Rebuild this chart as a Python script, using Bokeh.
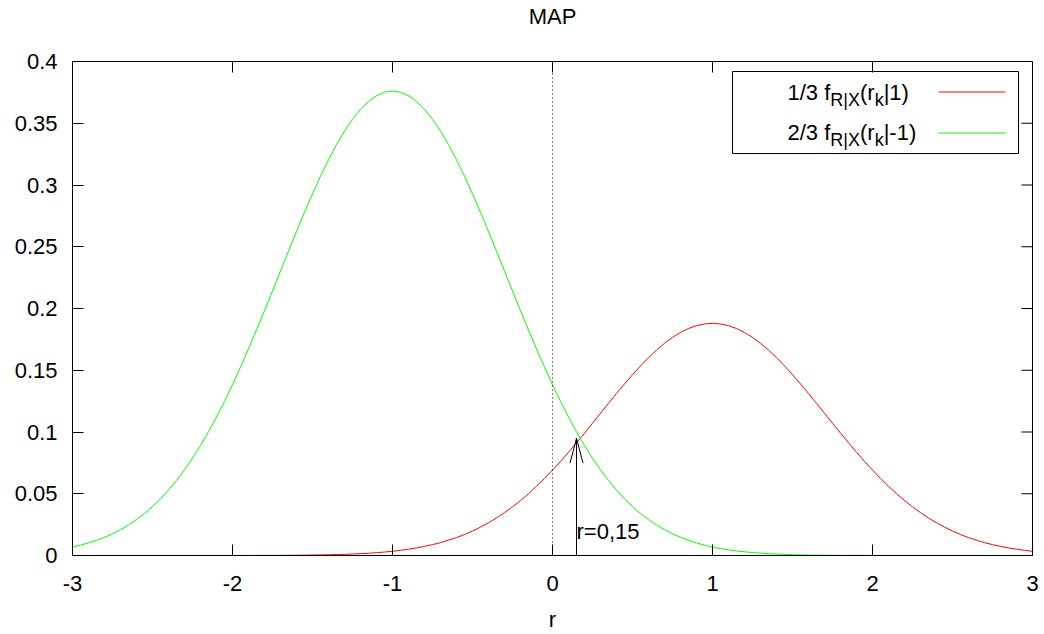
from bokeh.plotting import figure
from bokeh.models import FixedTicker, Span, Label, BoxAnnotation, Range1d, LinearAxis
from bokeh.embed import file_html
from bokeh.resources import INLINE

# ---------------- data ----------------
title = "MAP"
x_label = "r"
x_ticks = [-3, -2, -1, 0, 1, 2, 3]
x_tick_labels = ["-3", "-2", "-1", "0", "1", "2", "3"]
y_ticks = [0, 0.05, 0.1, 0.15, 0.2, 0.25, 0.3, 0.35, 0.4]
y_tick_labels = ["0", "0.05", "0.1", "0.15", "0.2", "0.25", "0.3", "0.35", "0.4"]

# sample positions r = -3.00 ... 3.00 (step 0.05)
r = [round(-3 + 0.05 * i, 2) for i in range(121)]

# 1/3 f_{R|X}(r_k|1)   (red)
f_plus = [
    0.0000, 0.0000, 0.0000, 0.0000, 0.0000, 0.0000, 0.0000, 0.0000, 0.0000, 0.0000,
    0.0000, 0.0000, 0.0000, 0.0000, 0.0000, 0.0000, 0.0000, 0.0000, 0.0000, 0.0000,
    0.0000, 0.0000, 0.0000, 0.0001, 0.0001, 0.0001, 0.0001, 0.0002, 0.0002, 0.0003,
    0.0004, 0.0005, 0.0006, 0.0008, 0.0009, 0.0012, 0.0015, 0.0018, 0.0023, 0.0028,
    0.0034, 0.0042, 0.0051, 0.0061, 0.0074, 0.0088, 0.0104, 0.0124, 0.0145, 0.0170,
    0.0198, 0.0230, 0.0265, 0.0304, 0.0347, 0.0394, 0.0445, 0.0501, 0.0561, 0.0624,
    0.0692, 0.0762, 0.0836, 0.0913, 0.0991, 0.1071, 0.1152, 0.1232, 0.1312, 0.1389,
    0.1464, 0.1535, 0.1602, 0.1663, 0.1718, 0.1766, 0.1806, 0.1838, 0.1861, 0.1875,
    0.1880, 0.1875, 0.1861, 0.1838, 0.1806, 0.1766, 0.1718, 0.1663, 0.1602, 0.1535,
    0.1464, 0.1389, 0.1312, 0.1232, 0.1152, 0.1071, 0.0991, 0.0913, 0.0836, 0.0762,
    0.0692, 0.0624, 0.0561, 0.0501, 0.0445, 0.0394, 0.0347, 0.0304, 0.0265, 0.0230,
    0.0198, 0.0170, 0.0145, 0.0124, 0.0104, 0.0088, 0.0074, 0.0061, 0.0051, 0.0042,
    0.0034,
]

# 2/3 f_{R|X}(r_k|-1)  (green)
f_minus = [
    0.0069, 0.0084, 0.0102, 0.0123, 0.0147, 0.0176, 0.0209, 0.0247, 0.0291, 0.0340,
    0.0396, 0.0459, 0.0530, 0.0608, 0.0694, 0.0788, 0.0891, 0.1002, 0.1121, 0.1248,
    0.1383, 0.1525, 0.1673, 0.1826, 0.1983, 0.2142, 0.2303, 0.2464, 0.2623, 0.2779,
    0.2928, 0.3071, 0.3204, 0.3327, 0.3436, 0.3532, 0.3613, 0.3676, 0.3723, 0.3751,
    0.3760, 0.3751, 0.3723, 0.3676, 0.3613, 0.3532, 0.3436, 0.3327, 0.3204, 0.3071,
    0.2928, 0.2779, 0.2623, 0.2464, 0.2303, 0.2142, 0.1983, 0.1826, 0.1673, 0.1525,
    0.1383, 0.1248, 0.1121, 0.1002, 0.0891, 0.0788, 0.0694, 0.0608, 0.0530, 0.0459,
    0.0396, 0.0340, 0.0291, 0.0247, 0.0209, 0.0176, 0.0147, 0.0123, 0.0102, 0.0084,
    0.0069, 0.0056, 0.0046, 0.0037, 0.0030, 0.0024, 0.0019, 0.0015, 0.0012, 0.0009,
    0.0007, 0.0006, 0.0004, 0.0003, 0.0003, 0.0002, 0.0001, 0.0001, 0.0001, 0.0001,
    0.0000, 0.0000, 0.0000, 0.0000, 0.0000, 0.0000, 0.0000, 0.0000, 0.0000, 0.0000,
    0.0000, 0.0000, 0.0000, 0.0000, 0.0000, 0.0000, 0.0000, 0.0000, 0.0000, 0.0000,
    0.0000,
]

# threshold annotation
threshold_x = 0.15
threshold_y = 0.095
threshold_text = "r=0,15"
threshold_text_y = 0.012

# legend entries: pieces of (text, is_subscript)
legend_entries = [
    [("1/3 f", False), ("R|X", True), ("(r", False), ("k", True), ("|1)", False)],
    [("2/3 f", False), ("R|X", True), ("(r", False), ("k", True), ("|-1)", False)],
]
legend_colors = ["#ff0000", "#00ff00"]

# ---------------- styling / layout ----------------
FONT = "Liberation Sans"
FS = 22
FS_SUB = 18
W, H = 1044, 634
ML, MR, MT, MB = 72, 12, 61, 79
FRAME_W = W - ML - MR
FRAME_H = H - MT - MB
X0, X1 = x_ticks[0], x_ticks[-1]
Y0, Y1 = y_ticks[0], y_ticks[-1]
DX = (X1 - X0) / FRAME_W   # data units per px
DY = (Y1 - Y0) / FRAME_H
TICK = 11
BASE_FIX = 9   # px: renderer draws "alphabetic" text this much lower

def px_x(off):  # px offset from right frame edge -> data x
    return X1 + off * DX

def px_y(off):  # px offset below top frame edge -> data y
    return Y1 - off * DY

ARIAL_W = {'1': 556, '2': 556, '3': 556, '/': 278, ' ': 278, 'f': 278, 'R': 722,
           '|': 260, 'X': 667, '(': 333, 'r': 333, 'k': 500, ')': 333, '-': 333}

def text_w(s, size):
    return sum(ARIAL_W[c] for c in s) * size / 1000.0

def add_text(x, y, text, size=FS, align="left"):
    p.add_layout(Label(x=x, y=y, text=text, text_font=FONT, text_font_size=f"{size}px",
                       text_color="black", text_align=align, text_baseline="alphabetic"))

p = figure(width=W, height=H, x_range=Range1d(X0, X1), y_range=Range1d(Y0, Y1),
           output_backend="svg", toolbar_location=None,
           min_border_left=ML, min_border_right=MR, min_border_top=MT, min_border_bottom=MB,
           background_fill_color="white", border_fill_color="white")

p.grid.visible = False
p.outline_line_color = "black"
p.outline_line_width = 1
p.outline_line_alpha = 1

def style_axis(ax):
    ax.axis_line_color = "black"
    ax.major_tick_line_color = "black"
    ax.major_tick_in = TICK
    ax.major_tick_out = 0
    ax.minor_tick_line_color = None
    ax.major_label_text_font = FONT
    ax.major_label_text_color = "black"
    ax.major_label_text_font_size = f"{FS}px"
    ax.axis_label_text_font = FONT
    ax.axis_label_text_font_size = f"{FS}px"
    ax.axis_label_text_font_style = "normal"
    ax.axis_label_text_color = "black"

xax = p.xaxis[0]
xax.ticker = FixedTicker(ticks=x_ticks)
xax.major_label_overrides = dict(zip(x_ticks, x_tick_labels))
style_axis(xax)
xax.major_label_standoff = 20
xax.axis_label = x_label
xax.axis_label_standoff = 13

yax = p.yaxis[0]
yax.ticker = FixedTicker(ticks=y_ticks)
yax.major_label_overrides = dict(zip(y_ticks, y_tick_labels))
style_axis(yax)
yax.major_label_standoff = 15

# title carried by a tick-less axis above the frame
title_ax = LinearAxis(ticker=FixedTicker(ticks=[]), axis_label=title)
style_axis(title_ax)
title_ax.axis_line_color = None
title_ax.major_tick_line_color = None
title_ax.axis_label_standoff = 33
p.add_layout(title_ax, "above")

# mirrored tick marks on the top and right frame edges
p.segment(x0=x_ticks, x1=x_ticks, y0=[Y1] * len(x_ticks), y1=[Y1 - TICK * DY] * len(x_ticks),
          line_color="black", line_width=1)
p.segment(x0=[X1] * len(y_ticks), x1=[X1 - TICK * DX] * len(y_ticks), y0=y_ticks, y1=y_ticks,
          line_color="black", line_width=1)

# zero axis (dotted)
p.add_layout(Span(location=0, dimension="height", line_color="black",
                  line_width=1, line_dash="1 3"))

# curves
p.line(r, f_plus, line_color=legend_colors[0], line_width=1)
p.line(r, f_minus, line_color=legend_colors[1], line_width=1)

# threshold arrow with open head (gnuplot style)
HEAD_LEN, HEAD_HALF = 25, 6.5
p.segment(x0=[threshold_x], y0=[Y0], x1=[threshold_x], y1=[threshold_y],
          line_color="black", line_width=1)
p.segment(x0=[threshold_x - HEAD_HALF * DX, threshold_x + HEAD_HALF * DX],
          y0=[threshold_y - HEAD_LEN * DY] * 2,
          x1=[threshold_x] * 2, y1=[threshold_y] * 2,
          line_color="black", line_width=1)
add_text(threshold_x, threshold_text_y + BASE_FIX * DY, threshold_text)

# legend (manual, to allow subscripts)
BOX_L, BOX_R, BOX_T, BOX_B = -300, -14, 10, 92
p.add_layout(BoxAnnotation(left=px_x(BOX_L), right=px_x(BOX_R), top=px_y(BOX_T),
                           bottom=px_y(BOX_B), fill_color=None, line_color="black",
                           line_width=1, line_alpha=1))
TEXT_START = -245
BASELINES = [40, 80]
SAMPLE_Y = [30.5, 71.5]
SAMPLE_X = (-94, -27)
SUB_SHIFT = 7
for entry, color, base, sy in zip(legend_entries, legend_colors, BASELINES, SAMPLE_Y):
    cx = TEXT_START
    for txt, sub in entry:
        size = FS_SUB if sub else FS
        add_text(px_x(cx), px_y(base - BASE_FIX + (SUB_SHIFT if sub else 0)), txt, size=size)
        cx += text_w(txt, size)
    p.segment(x0=[px_x(SAMPLE_X[0])], x1=[px_x(SAMPLE_X[1])], y0=[px_y(sy)], y1=[px_y(sy)],
              line_color=color, line_width=1)

open("out.html", "w").write(file_html(p, INLINE))
